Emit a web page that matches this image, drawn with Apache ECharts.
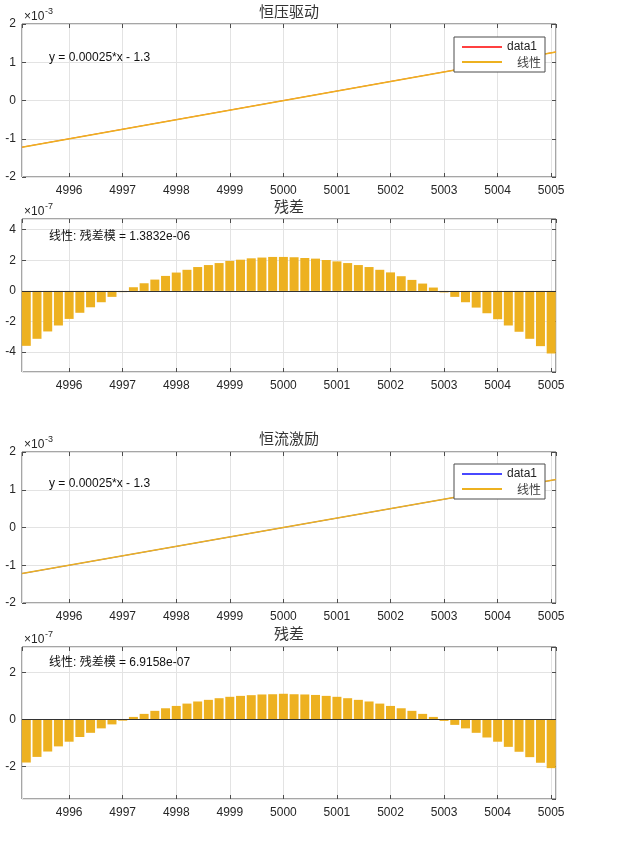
<!DOCTYPE html>
<html>
<head>
<meta charset="utf-8">
<title>恒压驱动 / 恒流激励</title>
<script src="https://cdn.jsdelivr.net/npm/echarts@6/dist/echarts.min.js"></script>
<style>
  html, body { margin: 0; padding: 0; background: #fff; }
  #chart { width: 625px; height: 845px; }
</style>
</head>
<body>
<div id="chart"></div>
<script>
// sample positions
const xs = [
  4995.2, 4995.4, 4995.6, 4995.8, 4996.0, 4996.2, 4996.4, 4996.6, 4996.8, 4997.0,
  4997.2, 4997.4, 4997.6, 4997.8, 4998.0, 4998.2, 4998.4, 4998.6, 4998.8, 4999.0,
  4999.2, 4999.4, 4999.6, 4999.8, 5000.0, 5000.2, 5000.4, 5000.6, 5000.8, 5001.0,
  5001.2, 5001.4, 5001.6, 5001.8, 5002.0, 5002.2, 5002.4, 5002.6, 5002.8, 5003.0,
  5003.2, 5003.4, 5003.6, 5003.8, 5004.0, 5004.2, 5004.4, 5004.6, 5004.8, 5005.0,
];
const xRange = [4995.12, 5005.09];

// fitted line end points (×1e-3)
const fitX = [4995.12, 5005.09];
const cvFitY = [-1.22, 1.27];
const ccFitY = [-1.22, 1.27];

// residuals (×1e-7)
const cvResid = [
  -3.59, -3.13, -2.65, -2.26, -1.83, -1.43, -1.07, -0.74, -0.39, -0.08,
  0.24, 0.50, 0.74, 0.98, 1.20, 1.38, 1.56, 1.69, 1.82, 1.96,
  2.04, 2.13, 2.18, 2.22, 2.22, 2.20, 2.15, 2.11, 2.02, 1.93,
  1.82, 1.69, 1.56, 1.38, 1.21, 0.96, 0.72, 0.48, 0.22, -0.10,
  -0.39, -0.74, -1.09, -1.46, -1.85, -2.26, -2.67, -3.13, -3.61, -4.09,
];
const ccResid = [
  -1.84, -1.60, -1.37, -1.15, -0.95, -0.75, -0.57, -0.38, -0.21, -0.05,
  0.11, 0.24, 0.37, 0.48, 0.58, 0.68, 0.77, 0.84, 0.91, 0.97,
  1.01, 1.04, 1.07, 1.08, 1.10, 1.08, 1.07, 1.05, 1.01, 0.97,
  0.91, 0.84, 0.77, 0.68, 0.58, 0.48, 0.37, 0.24, 0.11, -0.06,
  -0.23, -0.38, -0.57, -0.77, -0.95, -1.17, -1.38, -1.61, -1.85, -2.08,
];

const titles = ['恒压驱动', '残差', '恒流激励', '残差'];
const exponents = ['-3', '-7', '-3', '-7'];
const fitEquation = 'y = 0.00025*x - 1.3';
const residNorms = ['1.3832e-06', '6.9158e-07'];
const legendNames = ['data1', '线性'];
const yRanges = [[-2, 2], [-5.3, 4.7], [-2, 2], [-3.4, 3.1]];

const FONT = '"Liberation Sans", Arial, "Noto Sans CJK SC", sans-serif';
const CJK = '"Noto Sans CJK SC", sans-serif';
const AX = '#4d4d4d';
const GRID_LINE = '#e3e3e3';
const FIT_COLOR = '#EDB120';
const dataColors = ['#ff4040', '#4848ff'];

// plot boxes (px)
const boxes = [
  { top: 24, height: 153, fitPanel: true },
  { top: 219, height: 153, fitPanel: false },
  { top: 452, height: 151, fitPanel: true },
  { top: 647, height: 152, fitPanel: false },
];
const LEFT = 22;
const RIGHT = 69;

const grids = boxes.map((b) => ({
  left: LEFT, right: RIGHT, top: b.top, height: b.height,
  show: true, borderColor: AX, borderWidth: 1, backgroundColor: '#fff',
}));

const tick = { inside: true, length: 4, lineStyle: { color: AX } };
const xAxes = [];
const yAxes = [];
boxes.forEach((b, i) => {
  const [ymin, ymax] = yRanges[i];
  const ySplit = b.fitPanel ? 4 : i === 1 ? 5 : 3;
  const xBase = {
    type: 'value', gridIndex: i, min: xRange[0], max: xRange[1], splitNumber: 10,
    axisLine: { show: false, onZero: false }, axisTick: tick,
  };
  const yBase = {
    type: 'value', gridIndex: i, min: ymin, max: ymax, splitNumber: ySplit,
    axisLine: { show: false, onZero: false }, axisTick: tick,
  };
  xAxes.push({
    ...xBase,
    axisLabel: {
      interval: 0, showMinLabel: false, showMaxLabel: false, margin: 8,
      color: '#262626', fontSize: 12, fontFamily: FONT,
      formatter: (v) => String(v),
    },
    splitLine: { show: true, lineStyle: { color: GRID_LINE } },
  });
  xAxes.push({ ...xBase, position: 'top', axisLabel: { show: false }, splitLine: { show: false } });
  yAxes.push({
    ...yBase,
    axisLabel: {
      showMinLabel: b.fitPanel, showMaxLabel: b.fitPanel, margin: 6,
      color: '#262626', fontSize: 12, fontFamily: FONT,
    },
    splitLine: { show: true, lineStyle: { color: GRID_LINE } },
  });
  yAxes.push({ ...yBase, position: 'right', axisLabel: { show: false }, splitLine: { show: false } });
});

const fitSeries = (panel, fitY, color) => [
  {
    name: 'data1', type: 'line', xAxisIndex: panel * 2, yAxisIndex: panel * 2,
    data: fitX.map((x, i) => [x, fitY[i]]), symbol: 'none', silent: true,
    lineStyle: { color, width: 1 }, itemStyle: { color }, z: 2,
  },
  {
    name: '线性', type: 'line', xAxisIndex: panel * 2, yAxisIndex: panel * 2,
    data: fitX.map((x, i) => [x, fitY[i]]), symbol: 'none', silent: true,
    lineStyle: { color: FIT_COLOR, width: 1.5 }, itemStyle: { color: FIT_COLOR }, z: 3,
  },
];

const residSeries = (panel, resid) => ({
  name: '残差', type: 'bar', xAxisIndex: panel * 2, yAxisIndex: panel * 2,
  data: xs.map((x, i) => [x, resid[i]]), barWidth: 9, silent: true,
  itemStyle: { color: FIT_COLOR },
  markLine: {
    silent: true, symbol: 'none', label: { show: false },
    lineStyle: { color: '#333', width: 1, type: 'solid' },
    data: [{ yAxis: 0 }],
  },
  z: 3,
});

const makeLegend = (panel, top) => ({
  orient: 'vertical', left: 454, top,
  padding: [4, 4, 4, 8], itemGap: 3, itemWidth: 40, itemHeight: 2,
  backgroundColor: '#fff', borderColor: AX, borderWidth: 1,
  selectedMode: false,
  icon: 'rect',
  textStyle: {
    color: '#222', fontSize: 12, fontFamily: FONT,
    rich: { cjk: { fontFamily: CJK, fontSize: 12, color: '#444', padding: [0, 0, 0, 10] } },
  },
  formatter: (name) => (name === '线性' ? `{cjk|${name}}` : name),
  data: [
    { name: legendNames[0], itemStyle: { color: dataColors[panel === 0 ? 0 : 1] } },
    { name: legendNames[1], itemStyle: { color: FIT_COLOR } },
  ],
});

const titleCenter = LEFT + (625 - LEFT - RIGHT) / 2;
const titleTops = [4, 199, 431, 626];

const texts = [];
boxes.forEach((b, i) => {
  texts.push({
    type: 'text', x: 24, y: b.top - 7,
    style: { text: '×10', font: `12px ${FONT}`, fill: '#262626', textVerticalAlign: 'middle' },
  });
  texts.push({
    type: 'text', x: 45, y: b.top - 12,
    style: { text: exponents[i], font: `9px ${FONT}`, fill: '#262626', textVerticalAlign: 'middle' },
  });
});
const annotations = [
  { y: 58, text: fitEquation },
  { y: 237, text: `线性: 残差模 = ${residNorms[0]}` },
  { y: 484, text: fitEquation },
  { y: 663, text: `线性: 残差模 = ${residNorms[1]}` },
];
annotations.forEach((a) => {
  texts.push({
    type: 'text', x: 49, y: a.y, z: 10,
    style: { text: a.text, font: `12px ${FONT}`, fill: '#111', textVerticalAlign: 'middle' },
  });
});

const chart = echarts.init(document.getElementById('chart'), null, { renderer: 'canvas' });
chart.setOption({
  animation: false,
  backgroundColor: '#fff',
  title: titles.map((t, i) => ({
    text: t, left: titleCenter, top: titleTops[i], textAlign: 'center', padding: 0,
    textStyle: { fontFamily: CJK, fontSize: 15, fontWeight: 'normal', color: '#333' },
  })),
  legend: [makeLegend(0, 37), makeLegend(2, 464)],
  grid: grids,
  xAxis: xAxes,
  yAxis: yAxes,
  series: [
    ...fitSeries(0, cvFitY, dataColors[0]),
    residSeries(1, cvResid),
    ...fitSeries(2, ccFitY, dataColors[1]),
    residSeries(3, ccResid),
  ],
  graphic: texts,
});
</script>
</body>
</html>
